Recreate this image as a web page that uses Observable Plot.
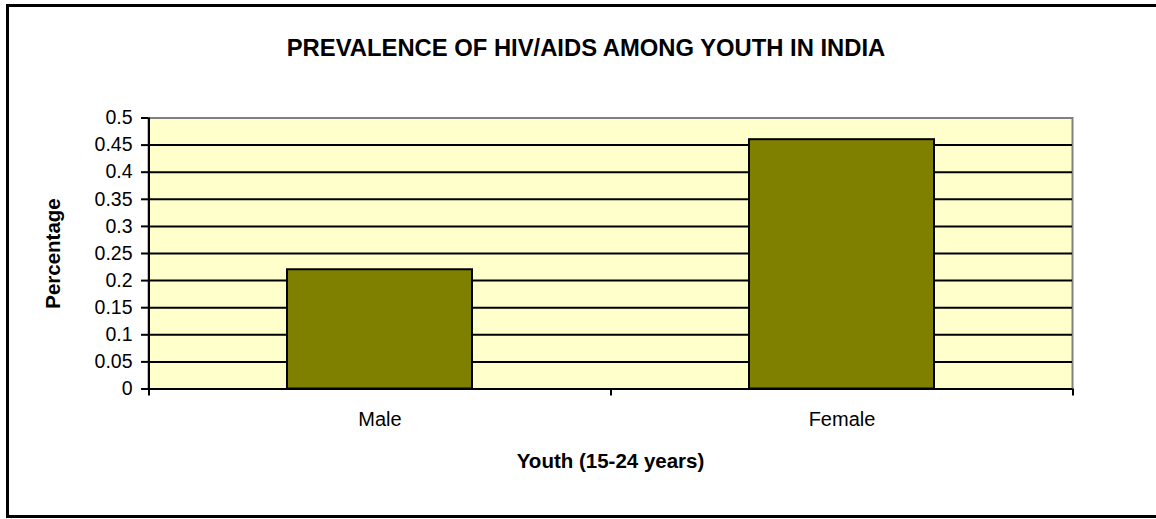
<!DOCTYPE html>
<html>
<head>
<meta charset="utf-8">
<script src="https://cdn.jsdelivr.net/npm/d3@7"></script>
<script src="https://cdn.jsdelivr.net/npm/@observablehq/plot@0.6"></script>
<style>
  body { margin: 0; background: #fff; }
  #wrap { position: relative; width: 1156px; height: 519px; overflow: hidden; }
  #wrap svg { position: absolute; left: 0; top: 0; }
  #box { position: absolute; left: 6px; top: 4px; width: 1160px; height: 508px;
         border: 3px solid #000; pointer-events: none; }
</style>
</head>
<body>
<div id="wrap"><div id="box"></div></div>
<script>
// Chart data
const categories = ["Male", "Female"];
const prevalence = [0.22, 0.46];
const yTicks = [0, 0.05, 0.1, 0.15, 0.2, 0.25, 0.3, 0.35, 0.4, 0.45, 0.5];
const yTickLabels = ["0", "0.05", "0.1", "0.15", "0.2", "0.25", "0.3", "0.35", "0.4", "0.45", "0.5"];
const chartTitle = "PREVALENCE OF HIV/AIDS AMONG YOUTH IN INDIA";
const xTitle = "Youth (15-24 years)";
const yTitle = "Percentage";

const rows = categories.map((c, i) => ({category: c, value: prevalence[i]}));

// Layout
const W = 1156, H = 519;
const mL = 148, mR = 84, mT = 117.5, mB = 130.5;
const step = (W - mL - mR) / categories.length;
const font = "'Liberation Sans', Arial, Helvetica, sans-serif";

const chart = Plot.plot({
  width: W,
  height: H,
  marginLeft: mL,
  marginRight: mR,
  marginTop: mT,
  marginBottom: mB,
  style: {fontFamily: font, background: "transparent", color: "#000"},
  x: {domain: categories, paddingInner: 0.6, paddingOuter: 0.3},
  y: {domain: [0, 0.5]},
  marks: [
    // plot area with grey top/right edges
    Plot.frame({fill: "#FFFFCC", stroke: "#808080", strokeWidth: 2}),
    // horizontal gridlines
    Plot.ruleY(yTicks.slice(1, -1), {stroke: "#000", strokeWidth: 2}),
    // bars
    Plot.barY(rows, {x: "category", y: "value", fill: "#808000", stroke: "#000", strokeWidth: 2}),
    // axis lines
    Plot.ruleY([0], {stroke: "#000", strokeWidth: 2}),
    Plot.ruleX([categories[0]], {dx: -step / 2, stroke: "#000", strokeWidth: 2, insetBottom: -7}),
    // category boundary ticks below the x axis
    Plot.ruleX(categories, {y1: 0, y2: 0, dx: step / 2, insetBottom: -7, stroke: "#000", strokeWidth: 2}),
    // y axis ticks and labels
    Plot.axisY({
      ticks: yTicks,
      tickFormat: (d) => yTickLabels[yTicks.indexOf(d)],
      tickSize: 7,
      tickPadding: 9,
      fontSize: 19.5,
      stroke: "#000",
      strokeWidth: 2,
      label: null
    }),
    // category labels
    Plot.axisX({tickSize: 0, tickPadding: 23, fontSize: 20, label: null}),
    // titles
    Plot.text([chartTitle], {
      text: (d) => d, frameAnchor: "top", lineAnchor: "middle", textAnchor: "middle",
      dx: -24.5, dy: -70, fontSize: 23.8, fontWeight: "bold", fill: "#000"
    }),
    Plot.text([xTitle], {
      text: (d) => d, frameAnchor: "bottom", lineAnchor: "middle", textAnchor: "middle",
      dy: 72.2, fontSize: 20.5, fontWeight: "bold", fill: "#000"
    }),
    Plot.text([yTitle], {
      text: (d) => d, frameAnchor: "left", lineAnchor: "middle", textAnchor: "middle",
      rotate: -90, dx: -94.6, fontSize: 20.5, fontWeight: "bold", fill: "#000"
    })
  ]
});

document.getElementById("wrap").prepend(chart);
</script>
</body>
</html>
